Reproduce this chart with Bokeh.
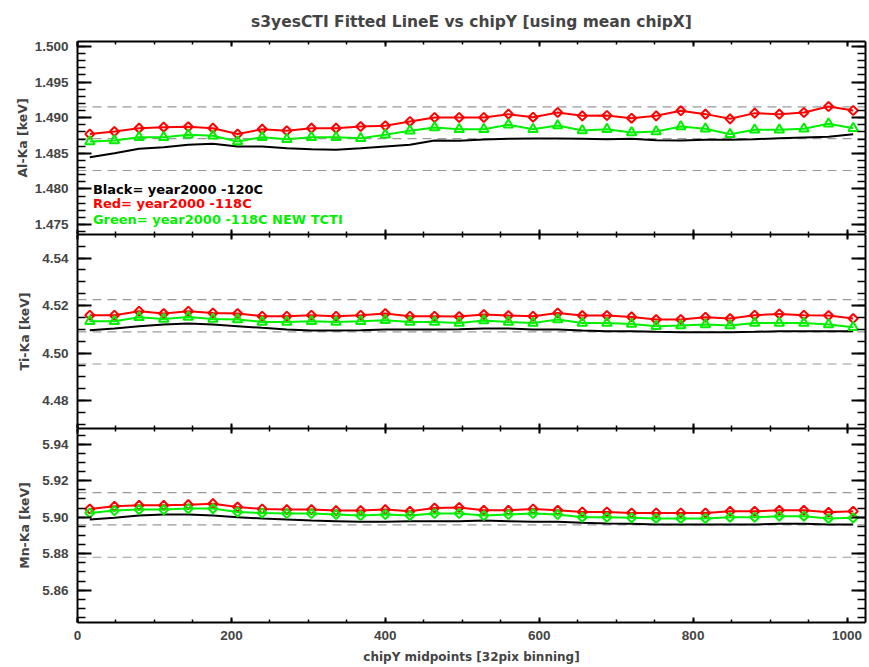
import numpy as np
from bokeh.plotting import figure
from bokeh.layouts import column
from bokeh.models import (LinearAxis, Range1d, SingleIntervalTicker, Span, Label,
                          PrintfTickFormatter)
from bokeh.embed import file_html
from bokeh.resources import INLINE

# chipY bin midpoints (32 pixel binning over 1024 rows)
chip_y = list(range(16, 1024, 32))

# Al-Ka fitted line energies [keV]
al_black = [1.48445, 1.48502, 1.48563, 1.48586, 1.48619, 1.48633, 1.48596, 1.48596,
            1.48572, 1.48558, 1.48549, 1.48572, 1.48596, 1.48619, 1.48680, 1.48677,
            1.48694, 1.48703, 1.48708, 1.48708, 1.48703, 1.48698, 1.48703, 1.48684,
            1.48680, 1.48689, 1.48689, 1.48698, 1.48712, 1.48722, 1.48731, 1.48768]
al_red = [1.48770, 1.48806, 1.48853, 1.48867, 1.48872, 1.48853, 1.48770, 1.48839,
          1.48816, 1.48853, 1.48853, 1.48876, 1.48886, 1.48947, 1.49003, 1.49003,
          1.49003, 1.49050, 1.49007, 1.49073, 1.49026, 1.49031, 1.48993, 1.49026,
          1.49097, 1.49050, 1.48984, 1.49064, 1.49050, 1.49073, 1.49157, 1.49101]
al_green = [1.48666, 1.48680, 1.48726, 1.48726, 1.48760, 1.48746, 1.48666, 1.48726,
            1.48698, 1.48726, 1.48726, 1.48712, 1.48760, 1.48816, 1.48862, 1.48839,
            1.48839, 1.48900, 1.48839, 1.48890, 1.48820, 1.48839, 1.48792, 1.48806,
            1.48876, 1.48844, 1.48768, 1.48830, 1.48830, 1.48844, 1.48914, 1.48853]

# Ti-Ka fitted line energies [keV]
ti_black = [4.50967, 4.51038, 4.51134, 4.51205, 4.51247, 4.51205, 4.51134, 4.51063,
            4.50996, 4.50954, 4.50954, 4.50967, 4.50996, 4.50996, 4.50996, 4.51005,
            4.51038, 4.51038, 4.50996, 4.50996, 4.50954, 4.50925, 4.50925, 4.50895,
            4.50883, 4.50883, 4.50883, 4.50895, 4.50925, 4.50925, 4.50925, 4.50925]
ti_red = [4.51594, 4.51594, 4.51762, 4.51665, 4.51762, 4.51690, 4.51665, 4.51552,
          4.51552, 4.51594, 4.51552, 4.51594, 4.51665, 4.51552, 4.51552, 4.51540,
          4.51623, 4.51582, 4.51552, 4.51690, 4.51582, 4.51582, 4.51523, 4.51414,
          4.51414, 4.51510, 4.51456, 4.51594, 4.51649, 4.51594, 4.51582, 4.51456]
ti_green = [4.51343, 4.51343, 4.51510, 4.51439, 4.51523, 4.51439, 4.51414, 4.51314,
            4.51314, 4.51343, 4.51314, 4.51343, 4.51385, 4.51314, 4.51314, 4.51272,
            4.51372, 4.51314, 4.51272, 4.51414, 4.51272, 4.51272, 4.51230, 4.51134,
            4.51163, 4.51205, 4.51163, 4.51272, 4.51272, 4.51272, 4.51205, 4.51092]

# Mn-Ka fitted line energies [keV]
mn_black = [5.89875, 5.89964, 5.90092, 5.90146, 5.90146, 5.90092, 5.90000, 5.89930,
            5.89875, 5.89822, 5.89784, 5.89746, 5.89746, 5.89784, 5.89784, 5.89784,
            5.89822, 5.89784, 5.89746, 5.89746, 5.89692, 5.89659, 5.89638, 5.89605,
            5.89605, 5.89605, 5.89605, 5.89605, 5.89638, 5.89638, 5.89605, 5.89605]
mn_red = [5.90449, 5.90595, 5.90649, 5.90649, 5.90686, 5.90741, 5.90557, 5.90449,
          5.90416, 5.90416, 5.90362, 5.90362, 5.90416, 5.90324, 5.90503, 5.90530,
          5.90378, 5.90378, 5.90449, 5.90378, 5.90286, 5.90286, 5.90232, 5.90232,
          5.90232, 5.90232, 5.90324, 5.90324, 5.90378, 5.90378, 5.90270, 5.90324]
mn_green = [5.90232, 5.90362, 5.90416, 5.90416, 5.90470, 5.90470, 5.90286, 5.90232,
            5.90200, 5.90200, 5.90146, 5.90092, 5.90146, 5.90092, 5.90200, 5.90200,
            5.90092, 5.90146, 5.90200, 5.90146, 5.90000, 5.90000, 5.89964, 5.89930,
            5.89930, 5.89930, 5.90000, 5.90000, 5.90054, 5.90054, 5.89930, 5.89964]

# reference line energies; dashed guides at ref and ref*(1 +/- 0.3%)
ref_energy = {"Al": 1.48705, "Ti": 4.50895, "Mn": 5.89575}
band_frac = 0.003

y_limits = {"Al": (1.4736, 1.5007), "Ti": (4.4683, 4.5499), "Mn": (5.8423, 5.9486)}
y_ticks = {"Al": (0.005, 5, "%.3f"), "Ti": (0.02, 4, "%.2f"), "Mn": (0.02, 4, "%.2f")}
y_titles = {"Al": "Al-Ka [keV]", "Ti": "Ti-Ka [keV]", "Mn": "Mn-Ka [keV]"}

legend_lines = ["Black= year2000 -120C", "Red= year2000 -118C",
                "Green= year2000 -118C NEW TCTI"]

RED = "#ff0000"
GREEN = "#00f000"
TICK_FONT = "Liberation Sans"
TEXT_FONT = "DejaVu Sans"
W = 869
FRAME_H = 194
LEFT, RIGHT = 77, 4


def style_axis(ax, maj, mnr):
    ax.major_tick_in = maj
    ax.major_tick_out = 0
    ax.minor_tick_in = mnr
    ax.minor_tick_out = 0
    ax.axis_line_width = 2
    ax.major_tick_line_width = 2
    ax.minor_tick_line_width = 1.5
    ax.axis_line_color = "black"
    ax.major_tick_line_color = "black"
    ax.minor_tick_line_color = "black"


def ticks_only_axis(ticker, maj, mnr):
    # mirror axis: tick marks and axis line, no labels
    ax = LinearAxis(ticker=ticker, major_label_text_color=None,
                    major_label_text_alpha=0, major_label_standoff=0,
                    axis_label=None)
    style_axis(ax, maj, mnr)
    return ax


def panel(key, black, red, green, green_marker, top, bottom, show_x, ylabel_standoff):
    p = figure(width=W, height=FRAME_H + top + bottom, output_backend="svg",
               toolbar_location=None, x_range=Range1d(0, 1024),
               y_range=Range1d(*y_limits[key]),
               x_axis_location=None, y_axis_location=None,
               min_border_left=LEFT, min_border_right=RIGHT,
               min_border_top=top, min_border_bottom=bottom)
    p.grid.visible = False
    p.outline_line_color = None
    p.background_fill_color = "white"
    p.border_fill_color = "white"

    interval, minor, fmt = y_ticks[key]
    left = LinearAxis(ticker=SingleIntervalTicker(interval=interval, num_minor_ticks=minor),
                      formatter=PrintfTickFormatter(format=fmt),
                      axis_label=y_titles[key])
    style_axis(left, 14, 8)
    left.major_label_text_font = TICK_FONT
    left.major_label_text_font_style = "bold"
    left.major_label_text_font_size = "13.5px"
    left.major_label_standoff = 9
    left.axis_label_text_font = TEXT_FONT
    left.axis_label_text_font_style = "bold"
    left.axis_label_text_font_size = "12.5px"
    left.axis_label_standoff = ylabel_standoff
    p.add_layout(left, "left")
    p.add_layout(ticks_only_axis(SingleIntervalTicker(interval=interval, num_minor_ticks=minor), 14, 8), "right")
    p.add_layout(ticks_only_axis(SingleIntervalTicker(interval=200, num_minor_ticks=4), 5, 3), "above")
    if show_x:
        bx = LinearAxis(ticker=SingleIntervalTicker(interval=200, num_minor_ticks=4),
                        formatter=PrintfTickFormatter(format="%d"),
                        axis_label="chipY midpoints [32pix binning]")
        style_axis(bx, 5, 3)
        bx.major_label_text_font = TICK_FONT
        bx.major_label_text_font_style = "bold"
        bx.major_label_text_font_size = "13.5px"
        bx.major_label_standoff = 8
        bx.axis_label_text_font = TEXT_FONT
        bx.axis_label_text_font_style = "bold"
        bx.axis_label_text_font_size = "12px"
        bx.axis_label_standoff = 7
        p.add_layout(bx, "below")
    else:
        p.add_layout(ticks_only_axis(SingleIntervalTicker(interval=200, num_minor_ticks=4), 5, 3), "below")

    ref = ref_energy[key]
    for loc in (ref * (1 - band_frac), ref, ref * (1 + band_frac)):
        p.add_layout(Span(location=loc, dimension="width", line_color="#9a9a9a",
                          line_width=1.2, line_dash="9 6", level="underlay"))

    p.line(chip_y, black, line_color="black", line_width=2)
    p.line(chip_y, red, line_color=RED, line_width=2)
    p.scatter(chip_y, red, marker="square", angle=np.pi / 4, size=6.5,
              line_color=RED, fill_alpha=0, line_width=2)
    p.line(chip_y, green, line_color=GREEN, line_width=2)
    if green_marker == "triangle":
        p.scatter(chip_y, green, marker="triangle", size=9.5,
                  line_color=GREEN, fill_alpha=0, line_width=2)
    else:
        p.scatter(chip_y, green, marker="square", angle=np.pi / 4, size=6.5,
                  line_color=GREEN, fill_alpha=0, line_width=2)
    return p


p_al = panel("Al", al_black, al_red, al_green, "triangle", 40, 0, False, 2)
p_ti = panel("Ti", ti_black, ti_red, ti_green, "triangle", 0, 0, False, 7)
p_mn = panel("Mn", mn_black, mn_red, mn_green, "diamond", 0, 45, True, 7)

p_al.title.text = "s3yesCTI Fitted LineE vs chipY [using mean chipX]"
p_al.title.align = "center"
p_al.title.text_font = TEXT_FONT
p_al.title.text_font_style = "bold"
p_al.title.text_font_size = "15.5px"
p_al.title.standoff = 21

# legend text in the lower part of the Al panel
legend_y = [1.47985, 1.47790, 1.47575]
for txt, col, yy in zip(legend_lines, ["black", RED, GREEN], legend_y):
    p_al.add_layout(Label(x=20, y=yy, text=txt, text_color=col,
                          text_font=TEXT_FONT, text_font_style="bold",
                          text_font_size="13px", text_baseline="middle"))

layout = column(p_al, p_ti, p_mn, spacing=0)
open("out.html", "w").write(file_html(layout, INLINE))
